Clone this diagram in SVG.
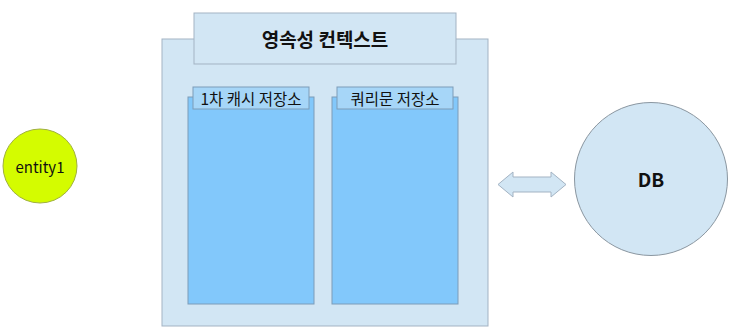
<svg xmlns="http://www.w3.org/2000/svg" width="736" height="335" viewBox="0 0 736 335">
<style>
.lt{fill:#d2e6f4;stroke:#a3b3c3;stroke-width:1}
.pn{fill:#82c8fb;stroke:#7d9cb8;stroke-width:1}
.lb{fill:#a6d6f8;stroke:#7d9cb8;stroke-width:1}
text{font-family:"Noto Sans CJK KR","Noto Sans",sans-serif;fill:#111;text-anchor:middle}
.t{font-size:19px;font-weight:bold}
.s{font-size:15.5px}
.e{font-size:15px}
.d{font-size:19px;font-weight:bold}
</style>
<rect width="736" height="335" fill="#fff"/>
<g id="ctx">
<rect class="lt" x="162" y="39" width="326" height="287"/>
<rect class="lt" x="194" y="13" width="262" height="51"/>
<text class="t" x="325" y="46.5">영속성 컨텍스트</text>
</g>
<g id="cache1">
<rect class="pn" x="188" y="97" width="126" height="207"/>
<rect class="lb" x="193" y="87" width="116" height="22"/>
<text class="s" x="251" y="104.5">1차 캐시 저장소</text>
</g>
<g id="cache2">
<rect class="pn" x="332" y="97" width="126" height="207"/>
<rect class="lb" x="337" y="87" width="116" height="22"/>
<text class="s" x="395" y="104.5">쿼리문 저장소</text>
</g>
<g id="entity1">
<circle cx="40" cy="166" r="37" fill="#d4fc00" stroke="#a0b040" stroke-width="1"/>
<text class="e" x="40" y="173">entity1</text>
</g>
<g id="db">
<circle cx="651" cy="179" r="76.5" fill="#d2e6f4" stroke="#8a96a0" stroke-width="1"/>
<text class="d" x="651" y="187">DB</text>
</g>
<g id="connectors">
<polygon points="498,184.5 513,172 513,177 551,177 551,172 566,184.5 551,197 551,192 513,192 513,197" fill="#d2e6f4" stroke="#a3b3c3" stroke-width="1"/>
</g>
</svg>
